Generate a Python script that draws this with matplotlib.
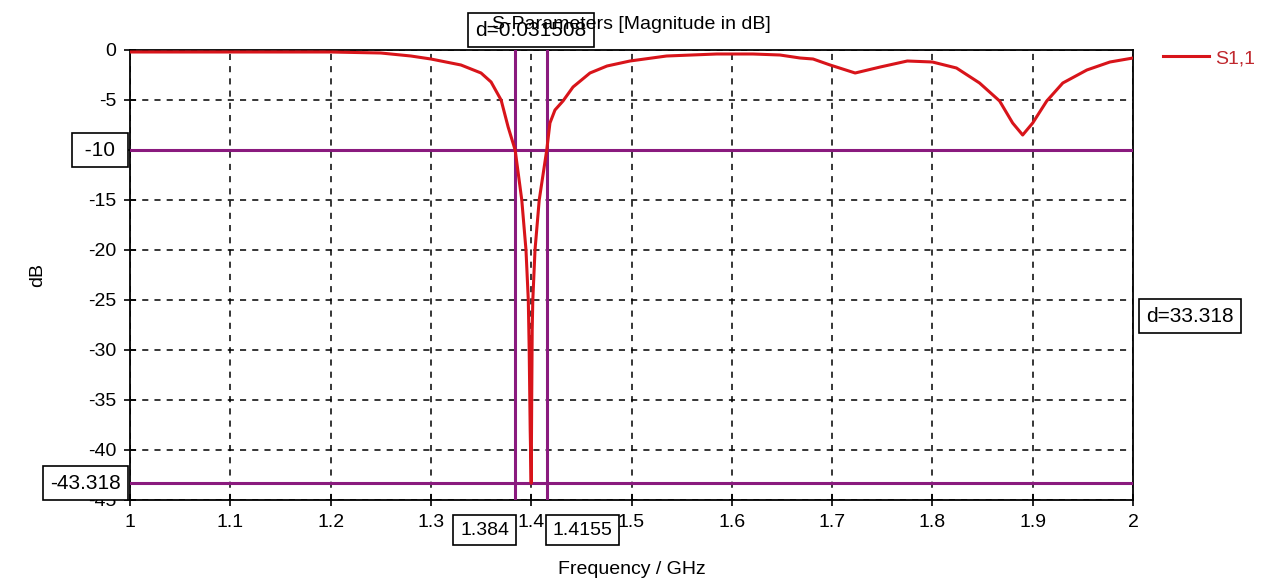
import matplotlib
matplotlib.use("Agg")
import matplotlib.pyplot as plt

# S1,1 magnitude trace (GHz, dB)
freq_ghz = [1.00, 1.05, 1.10, 1.15, 1.20, 1.25, 1.28, 1.30, 1.33, 1.35, 1.36,
            1.37, 1.377, 1.384, 1.3906, 1.3948, 1.3971, 1.398, 1.399, 1.400,
            1.4005, 1.401, 1.4016, 1.4038, 1.408, 1.4155, 1.4187, 1.4237,
            1.4317, 1.4417, 1.4586, 1.4756, 1.4985, 1.535, 1.585, 1.621,
            1.648, 1.668, 1.681, 1.698, 1.723, 1.748, 1.775, 1.800, 1.824,
            1.847, 1.867, 1.880, 1.890, 1.900, 1.914, 1.930, 1.954, 1.977, 2.000]
s11_db = [-0.2, -0.2, -0.2, -0.2, -0.2, -0.3, -0.6, -0.9, -1.5, -2.3, -3.2,
          -5.0, -7.7, -10.0, -15.0, -20.0, -25.0, -30.0, -38.0, -43.318,
          -35.0, -28.0, -25.0, -20.0, -15.0, -10.0, -7.3, -6.0,
          -5.1, -3.7, -2.3, -1.6, -1.1, -0.6, -0.4, -0.4,
          -0.5, -0.8, -0.9, -1.5, -2.3, -1.7, -1.1, -1.2, -1.8,
          -3.3, -5.1, -7.3, -8.5, -7.3, -5.1, -3.3, -2.0, -1.2, -0.8]

# Marker positions
marker_freqs = [1.384, 1.415508]
marker_levels = [-10.0, -43.318]
x_ticks = [1, 1.1, 1.2, 1.3, 1.4, 1.5, 1.6, 1.7, 1.8, 1.9, 2]
x_tick_labels = ["1", "1.1", "1.2", "1.3", "1.4", "1.5", "1.6", "1.7", "1.8", "1.9", "2"]
y_ticks = [0, -5, -10, -15, -20, -25, -30, -35, -40, -45]

plt.rcParams["font.family"] = ["Liberation Sans", "DejaVu Sans"]
plt.rcParams["axes.unicode_minus"] = False

fig = plt.figure(figsize=(12.63, 5.84), dpi=100)
ax = fig.add_axes([130 / 1263, 84 / 584, 1003 / 1263, 450 / 584])

ax.set_xlim(1, 2)
ax.set_ylim(-45, 0)
ax.set_xticks(x_ticks)
ax.set_xticklabels(x_tick_labels)
ax.set_yticks(y_ticks)
ax.tick_params(direction="inout", length=8, width=1.2, labelsize=14, pad=6,
               colors="black")

ax.grid(True, linestyle=(0, (4, 4)), color="black", linewidth=1.1)
for sp in ax.spines.values():
    sp.set_linewidth(1.3)

purple = "#8a1a7e"
for lv in marker_levels:
    ax.axhline(lv, color=purple, linewidth=2.2, zorder=3)
for fq in marker_freqs:
    ax.axvline(fq, color=purple, linewidth=2.2, zorder=3)

ax.plot(freq_ghz, s11_db, color="#d8141a", linewidth=2.2, zorder=4,
        label="S1,1")

ax.set_title("S-Parameters [Magnitude in dB]", fontsize=14, pad=15)
ax.set_xlabel("Frequency / GHz", fontsize=14, labelpad=22)
ax.set_ylabel("dB", fontsize=14, labelpad=30)

leg = ax.legend(loc="upper left", bbox_to_anchor=(1.012, 1.04), frameon=False,
                handlelength=2.4, handletextpad=0.3, fontsize=14)
for t in leg.get_texts():
    t.set_color("#c0282e")

box = dict(boxstyle="square,pad=0.35", facecolor="white", edgecolor="black",
           linewidth=1.2)
tf = ax.get_yaxis_transform()
xf = ax.get_xaxis_transform()

# value boxes on the axes
ax.text(-0.009, marker_levels[0], f" {marker_levels[0]:g} ", transform=tf,
        ha="right", va="center", fontsize=15, bbox=box, zorder=6, clip_on=False)
ax.text(-0.009, marker_levels[1], f"{marker_levels[1]:.3f}", transform=tf,
        ha="right", va="center", fontsize=15, bbox=box, zorder=6, clip_on=False)
ax.text(marker_freqs[0] - 0.006, -0.048, f"{marker_freqs[0]:.5g}",
        transform=xf, ha="right", va="top", fontsize=14, bbox=box, zorder=6,
        clip_on=False)
ax.text(marker_freqs[1] + 0.006, -0.048, f"{marker_freqs[1]:.5g}",
        transform=xf, ha="left", va="top", fontsize=14, bbox=box, zorder=6,
        clip_on=False)

# difference annotations
d_freq = marker_freqs[1] - marker_freqs[0]
d_level = marker_levels[0] - marker_levels[1]
box_clear = dict(box, facecolor="none")
ax.text(sum(marker_freqs) / 2, 1.044, f"d={d_freq:.6f}", transform=xf,
        ha="center", va="center", fontsize=15, bbox=box_clear, zorder=6,
        clip_on=False)
ax.text(1.013, -26.6, f"d={d_level:.3f}", transform=tf, ha="left",
        va="center", fontsize=15, bbox=box, zorder=6, clip_on=False)

fig.savefig("out.png", dpi=100, facecolor="white")
